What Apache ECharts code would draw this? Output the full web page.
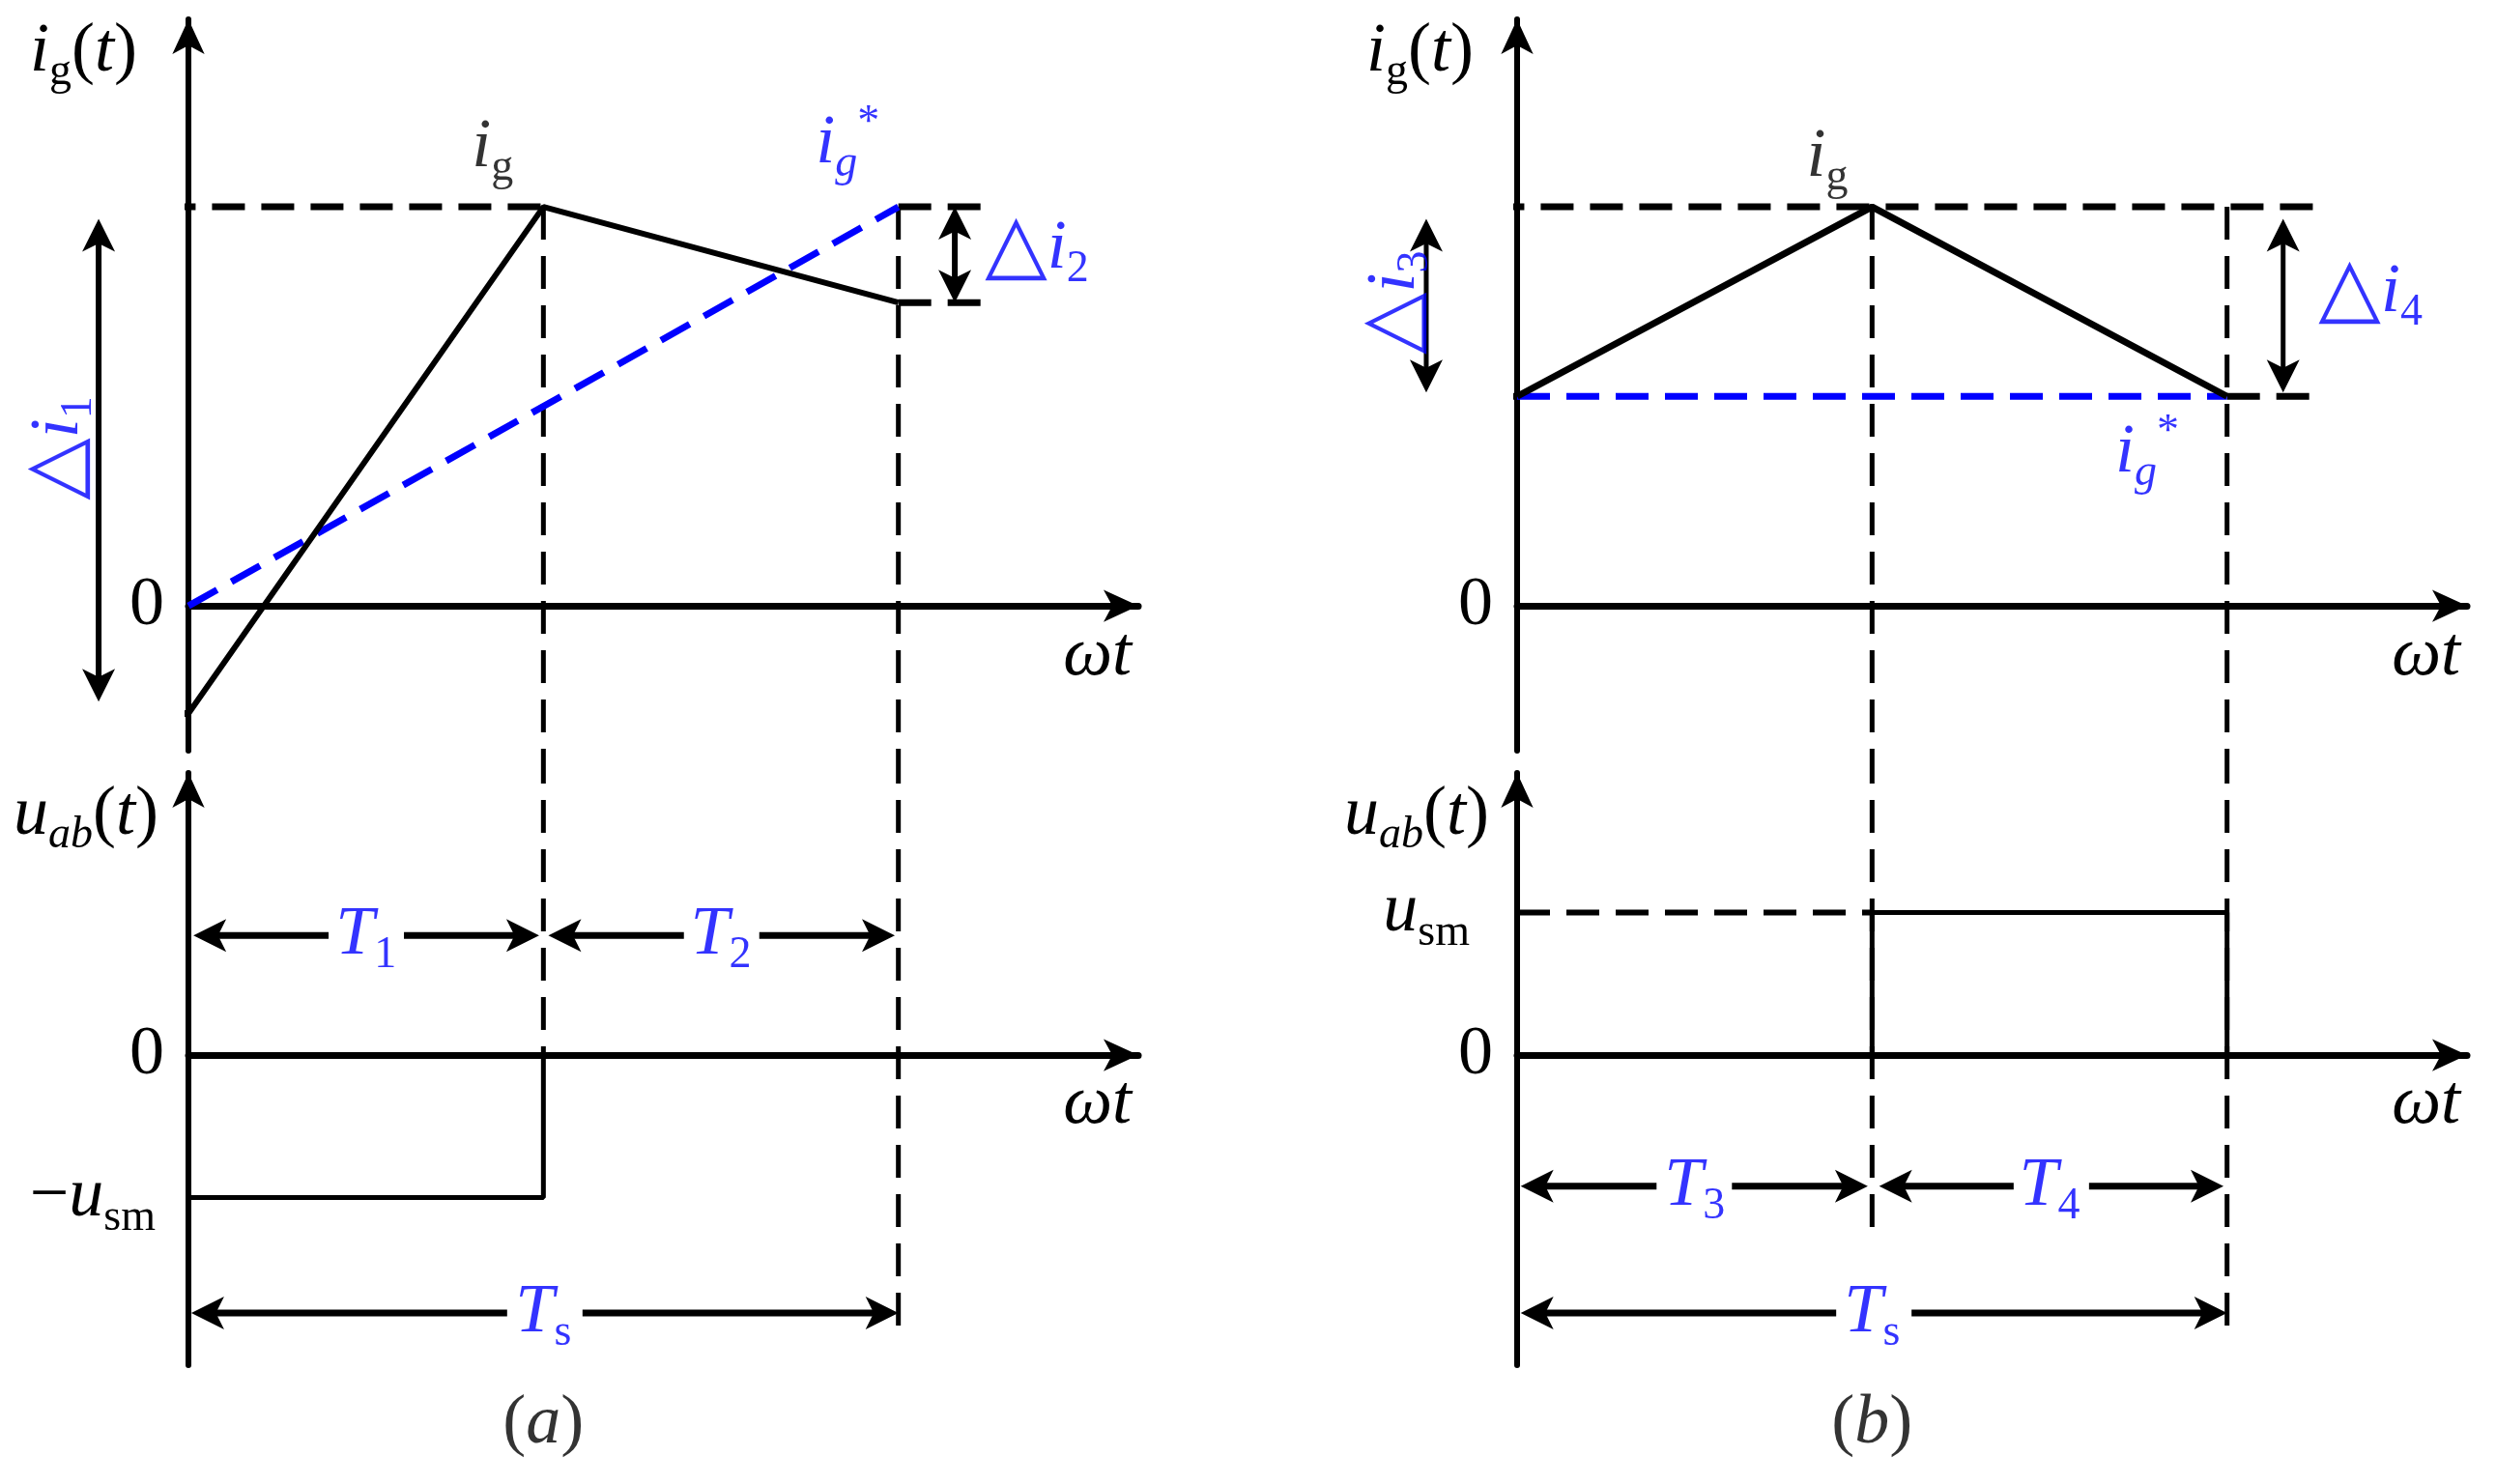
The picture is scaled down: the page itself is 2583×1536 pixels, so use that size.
<!DOCTYPE html>
<html>
<head>
<meta charset="utf-8">
<title>i_g / u_ab switching waveforms</title>
<script src="https://cdn.jsdelivr.net/npm/echarts@6.0.0/dist/echarts.min.js"></script>
<style>
  html, body { margin: 0; padding: 0; background: #fff; }
  #main { width: 2583px; height: 1536px; }
</style>
</head>
<body>
<div id="main"></div>
<script>
// time instants in units of T1 (T1 = T2 = T3 = T4, Ts = 2)
const timeA = [0, 1, 2]          // 0, T1, Ts
const timeB = [0, 1, 2]          // 0, T3, Ts
// grid current i_g at those instants (peak = 1)
const igA = [-0.27, 1, 0.76]
const igB = [0.525, 1, 0.525]
// reference current i_g* at 0 and Ts
const igRefA = [0, 1]
const igRefB = [0.525, 0.525]
// u_ab level in each sub-interval, in units of u_sm
const uabA = [-1, 0]
const uabB = [0, 1]

const BLUE = '#0000ff'
const FONT = 'Liberation Serif'
const DASH = [34, 17]
const AXIS_ARROW = [25, 36]
const HEAD_L = 34
const HEAD_W = 34

// layout of the four sub-plots
const LEFT = [195, 1570]
const WIDTH = 983
const X_MAX = 2.676
const TOP = { top: 20, height: 757, min: -0.363, max: 1.47 }
const BOT = { top: 800, height: 613, min: -2.176, max: 1.98 }
const PX_BOT = BOT.height / (BOT.max - BOT.min)
// value in the lower plot that reaches the bottom edge of the upper plot
const EXT = BOT.max + (BOT.top - TOP.top - TOP.height) / PX_BOT

const RICH = {
    n: { fontFamily: FONT, fontSize: 72, lineHeight: 88, verticalAlign: 'middle' },
    i: { fontFamily: FONT, fontSize: 72, fontStyle: 'italic', lineHeight: 88, verticalAlign: 'middle' },
    s: { fontFamily: FONT, fontSize: 46, verticalAlign: 'bottom' },
    si: { fontFamily: FONT, fontSize: 46, fontStyle: 'italic', verticalAlign: 'bottom' },
    sup: { fontFamily: FONT, fontSize: 46, verticalAlign: 'top' },
    tri: { fontFamily: 'DejaVu Sans', fontSize: 84, lineHeight: 88, verticalAlign: 'middle' },
    g1: { width: 9 },
    g2: { width: 24 }
}

const series = []

const addLine = (g, pts, color, width, dashed) => {
    series.push({
        type: 'line', xAxisIndex: g, yAxisIndex: g, data: pts,
        symbol: 'none', clip: false, silent: true, z: dashed ? 2 : 3,
        lineStyle: { color: color, width: width, type: dashed ? DASH : 'solid', cap: 'butt' }
    })
}

// double headed arrows: each item is [x1, y1, x2, y2] = the two tips
const addArrows = (g, list, width, gap) => {
    series.push({
        type: 'custom', coordinateSystem: 'cartesian2d', xAxisIndex: g, yAxisIndex: g,
        silent: true, clip: false, z: 4,
        data: list,
        renderItem: (params, api) => {
            const p1 = api.coord([api.value(0), api.value(1)])
            const p2 = api.coord([api.value(2), api.value(3)])
            const len = Math.hypot(p2[0] - p1[0], p2[1] - p1[1])
            const ux = (p2[0] - p1[0]) / len
            const uy = (p2[1] - p1[1]) / len
            const head = (p, s) => {
                const bx = ux * s, by = uy * s, w = HEAD_W / 2
                return {
                    type: 'polygon',
                    shape: { points: [
                        [p[0], p[1]],
                        [p[0] + bx * HEAD_L - by * w, p[1] + by * HEAD_L + bx * w],
                        [p[0] + bx * HEAD_L * 0.75, p[1] + by * HEAD_L * 0.75],
                        [p[0] + bx * HEAD_L + by * w, p[1] + by * HEAD_L - bx * w]
                    ] },
                    style: { fill: '#000' }
                }
            }
            const seg = (a, b) => ({
                type: 'line',
                shape: { x1: a[0], y1: a[1], x2: b[0], y2: b[1] },
                style: { stroke: '#000', lineWidth: width }
            })
            const a = [p1[0] + ux * HEAD_L * 0.7, p1[1] + uy * HEAD_L * 0.7]
            const b = [p2[0] - ux * HEAD_L * 0.7, p2[1] - uy * HEAD_L * 0.7]
            const children = [head(p1, 1), head(p2, -1)]
            if (gap) {
                const m = [(p1[0] + p2[0]) / 2, (p1[1] + p2[1]) / 2]
                children.push(seg(a, [m[0] - ux * gap / 2, m[1] - uy * gap / 2]))
                children.push(seg([m[0] + ux * gap / 2, m[1] + uy * gap / 2], b))
            } else {
                children.push(seg(a, b))
            }
            return { type: 'group', children: children }
        }
    })
}

const note = (value, fmt, extra) => ({ value: value, label: Object.assign({ formatter: fmt }, extra || {}) })

const addNotes = (g, items) => {
    series.push({
        type: 'scatter', xAxisIndex: g, yAxisIndex: g, silent: true, clip: false, z: 10,
        symbolSize: 1, itemStyle: { color: 'rgba(0,0,0,0)' },
        label: { show: true, position: 'inside', color: '#000', rich: RICH, textBorderWidth: 0 },
        data: items
    })
}

const stepPts = (times, levels) => {
    const pts = []
    levels.forEach((u, k) => {
        pts.push([times[k], u], [times[k + 1], u])
    })
    pts.push([times[times.length - 1], 0])
    return pts
}

// ---------- panel (a), upper plot ----------
addLine(0, [[-0.35, igA[1]], [timeA[1], igA[1]]], '#000', 7, true)
addLine(0, [[-0.31, igA[0]], [timeA[0], igA[0]]], '#000', 7, true)
addLine(0, [[timeA[2], igRefA[1]], [2.25, igRefA[1]]], '#000', 7, true)
addLine(0, [[timeA[2], igA[2]], [2.25, igA[2]]], '#000', 7, true)
addLine(0, [[timeA[1], igA[1]], [timeA[1], TOP.min]], '#000', 5, true)
addLine(0, [[timeA[2], igRefA[1]], [timeA[2], TOP.min]], '#000', 5, true)
addLine(0, timeA.map((t, k) => [t, igA[k]]), '#000', 6, false)
addLine(0, [[timeA[0], igRefA[0]], [timeA[2], igRefA[1]]], BLUE, 7, true)
addArrows(0, [
    [-0.253, igA[1] - 0.03, -0.253, igA[0] + 0.03],
    [2.159, igRefA[1], 2.159, igA[2]]
], 6, 0)
addNotes(0, [
    note([0.857, 1.148], '{i|i}{s|g}'),
    note([1.857, 1.157], '{i|i}{si|g}{sup|*}', { color: BLUE }),
    note([2.39, 0.893], '{tri|△}{i|i}{s|2}', { color: BLUE }),
    note([-0.365, 0.395], '{tri|△}{i|i}{s|1}', { color: BLUE, rotate: 90 })
])

// ---------- panel (a), lower plot ----------
addLine(1, [[timeA[1], EXT], [timeA[1], 0]], '#000', 5, true)
addLine(1, [[timeA[2], EXT], [timeA[2], -2.0]], '#000', 5, true)
addLine(1, stepPts(timeA, uabA), '#000', 5, false)
addArrows(1, [
    [timeA[0] + 0.014, 0.84, timeA[1] - 0.012, 0.84],
    [timeA[1] + 0.014, 0.84, timeA[2] - 0.01, 0.84],
    [timeA[0] + 0.008, -1.81, timeA[2], -1.81]
], 7, 78)
addNotes(1, [
    note([(timeA[0] + timeA[1]) / 2, 0.84], '{i|T}{s|1}', { color: BLUE }),
    note([(timeA[1] + timeA[2]) / 2, 0.84], '{i|T}{s|2}', { color: BLUE }),
    note([(timeA[0] + timeA[2]) / 2, -1.81], '{i|T}{s|s}', { color: BLUE }),
    note([(timeA[0] + timeA[2]) / 2, -2.59], '{n|(}{i|a}{n|)}')
])

// ---------- panel (b), upper plot ----------
addLine(2, [[-0.35, igB[1]], [2.25, igB[1]]], '#000', 7, true)
addLine(2, [[-0.30, igB[0]], [timeB[0], igB[0]]], '#000', 7, true)
addLine(2, [[timeB[2], igB[2]], [2.25, igB[2]]], '#000', 7, true)
addLine(2, [[timeB[1], igB[1]], [timeB[1], TOP.min]], '#000', 5, true)
addLine(2, [[timeB[2], igB[1]], [timeB[2], TOP.min]], '#000', 5, true)
addLine(2, [[timeB[0], igRefB[0]], [timeB[2], igRefB[1]]], BLUE, 7, true)
addLine(2, timeB.map((t, k) => [t, igB[k]]), '#000', 7, false)
addArrows(2, [
    [-0.256, igB[1] - 0.03, -0.256, igB[0] + 0.01],
    [2.158, igB[1] - 0.03, 2.158, igB[2] + 0.01]
], 5, 0)
addNotes(2, [
    note([0.874, 1.123], '{i|i}{s|g}'),
    note([1.775, 0.383], '{i|i}{si|g}{sup|*}', { color: BLUE }),
    note([2.404, 0.785], '{tri|△}{i|i}{s|4}', { color: BLUE }),
    note([-0.343, 0.76], '{tri|△}{i|i}{s|3}', { color: BLUE, rotate: 90 })
])

// ---------- panel (b), lower plot ----------
addLine(3, [[timeB[1], EXT], [timeB[1], -1.26]], '#000', 5, true)
addLine(3, [[timeB[2], EXT], [timeB[2], -2.0]], '#000', 5, true)
addLine(3, [[timeB[0], uabB[1]], [timeB[1], uabB[1]]], '#000', 6, true)
addLine(3, stepPts(timeB, uabB), '#000', 5, false)
addArrows(3, [
    [timeB[0] + 0.01, -0.92, timeB[1] - 0.012, -0.92],
    [timeB[1] + 0.02, -0.92, timeB[2] - 0.01, -0.92],
    [timeB[0] + 0.01, -1.81, timeB[2], -1.81]
], 7, 78)
addNotes(3, [
    note([(timeB[0] + timeB[1]) / 2, -0.92], '{i|T}{s|3}', { color: BLUE }),
    note([(timeB[1] + timeB[2]) / 2, -0.92], '{i|T}{s|4}', { color: BLUE }),
    note([(timeB[0] + timeB[2]) / 2, -1.81], '{i|T}{s|s}', { color: BLUE }),
    note([(timeB[0] + timeB[2]) / 2, -2.59], '{n|(}{i|b}{n|)}')
])

// ---------- axes ----------
const xAxisOf = (g, pad) => ({
    type: 'value', gridIndex: g, min: 0, max: X_MAX,
    axisLine: { show: true, onZero: true, symbol: ['none', 'arrow'], symbolSize: AXIS_ARROW,
        lineStyle: { color: '#000', width: 7 } },
    axisTick: { show: false }, axisLabel: { show: false }, splitLine: { show: false },
    name: '{i|ωt}', nameLocation: 'end', nameGap: -7, nameMoveOverlap: false,
    nameTextStyle: { color: '#000', rich: RICH, align: 'right', verticalAlign: 'top', padding: [pad, 0, 0, 0] }
})

const labelText = (v) => {
    if (v === 0) return '{n|0}'
    if (v === -1) return '{n|−}{i|u}{s|sm}{g1| }'
    if (v === 1) return '{i|u}{s|sm}{g2| }'
    return ''
}

const yAxisOf = (g, range, ticks, name, gap, padRight) => ({
    type: 'value', gridIndex: g, min: range.min, max: range.max,
    axisLine: { show: true, onZero: true, symbol: ['none', 'arrow'], symbolSize: AXIS_ARROW,
        lineStyle: { color: '#000', width: 6 } },
    axisTick: { show: false }, splitLine: { show: false },
    axisLabel: { show: true, customValues: ticks, margin: 25, color: '#000', rich: RICH,
        formatter: labelText },
    name: name, nameLocation: 'end', nameGap: gap, nameMoveOverlap: false,
    nameTextStyle: { color: '#000', rich: RICH, align: 'right', verticalAlign: 'middle', padding: [0, padRight, 0, 0] }
})

const gridOf = (left, r) => ({ left: left, top: r.top, width: WIDTH, height: r.height, outerBoundsMode: 'none' })

const chart = echarts.init(document.getElementById('main'))
chart.setOption({
    animation: false,
    backgroundColor: '#fff',
    grid: [gridOf(LEFT[0], TOP), gridOf(LEFT[0], BOT), gridOf(LEFT[1], TOP), gridOf(LEFT[1], BOT)],
    xAxis: [xAxisOf(0, 8), xAxisOf(1, 7), xAxisOf(2, 8), xAxisOf(3, 7)],
    yAxis: [
        yAxisOf(0, TOP, [0], '{i|i}{s|g}{n|(}{i|t}{n|)}', -34, 53),
        yAxisOf(1, BOT, [-1, 0], '{i|u}{si|ab}{n|(}{i|t}{n|)}', -44, 31),
        yAxisOf(2, TOP, [0], '{i|i}{s|g}{n|(}{i|t}{n|)}', -34, 45),
        yAxisOf(3, BOT, [0, 1], '{i|u}{si|ab}{n|(}{i|t}{n|)}', -44, 29)
    ],
    series: series
})
</script>
</body>
</html>
